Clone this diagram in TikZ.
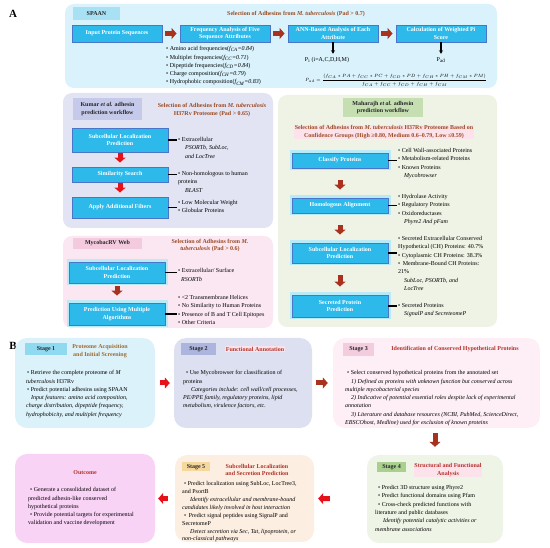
\documentclass[tikz,border=0pt]{standalone}
\usepackage{amsmath}
\usepackage{graphicx}
\usepackage{fontspec}
\setmainfont{Liberation Serif}
\usetikzlibrary{arrows.meta}
\definecolor{spaanbg}{HTML}{D9F2FB}
\definecolor{spaantag}{HTML}{A9E1F4}
\definecolor{stepcyan}{HTML}{2DB9EA}
\definecolor{stepedge}{HTML}{4A76C9}
\definecolor{glowcyan}{HTML}{B9EAF8}
\definecolor{kumarbg}{HTML}{E2E3F3}
\definecolor{kumartag}{HTML}{C6CAEA}
\definecolor{maharbg}{HTML}{EEF3E5}
\definecolor{mahartag}{HTML}{C5DFB2}
\definecolor{mycobg}{HTML}{FBE7F2}
\definecolor{mycotag}{HTML}{F4CADF}
\definecolor{titlebrown}{HTML}{9A4A22}
\definecolor{titlepink}{HTML}{FCE3EB}
\definecolor{arrowbrown}{HTML}{A8321E}
\definecolor{arrowred}{HTML}{E5121A}
\definecolor{stagered}{HTML}{B2322A}
\definecolor{stageolive}{HTML}{9C6A32}
\definecolor{sonebg}{HTML}{DCF2FA}
\definecolor{sonetag}{HTML}{8FD9F1}
\definecolor{stwobg}{HTML}{DDE0F1}
\definecolor{stwotag}{HTML}{ABB5DD}
\definecolor{sthreebg}{HTML}{FDEFF5}
\definecolor{sthreetag}{HTML}{F3CCDD}
\definecolor{sfourbg}{HTML}{EEF4E6}
\definecolor{sfourtag}{HTML}{A9D08E}
\definecolor{sfivebg}{HTML}{FCEEE1}
\definecolor{sfivetag}{HTML}{F6D79C}
\definecolor{outbg}{HTML}{F9D3F6}
\newcommand\adhtext{\fontsize{6}{8.3}\selectfont}
\newcommand\adhbold{\fontsize{6}{7.6}\selectfont\bfseries}
\tikzset{
 adh panel/.style={rounded corners=9pt,inner sep=0pt},
 adh stage/.style={rounded corners=12pt,inner sep=0pt},
 adh tag/.style={font=\adhbold,align=center,inner sep=1pt,text=black!85},
 adh title/.style={font=\adhbold,align=center,text=titlebrown,inner sep=.8pt},
 adh step/.style={fill=stepcyan,draw=stepedge,line width=.9pt,text=white,
                  font=\adhbold,align=center,inner sep=1pt},
 adh glow/.style={preaction={draw=glowcyan,line width=5pt}},
 adh list/.style={anchor=north west,align=left,font=\adhtext,inner sep=0pt},
 adh flow/.style={line width=5pt,draw=arrowred,
                  -{Triangle[length=5pt,width=11pt]},shorten <=3pt,shorten >=3pt},
 adh link/.style={line width=1.6pt,shorten >=1.5pt},
 adh down/.style={line width=1.1pt,-{Stealth[length=3.5pt,width=4pt]}},
 adh letter/.style={font=\fontsize{11}{12}\selectfont\bfseries}
}

\begin{document}
\begin{tikzpicture}[x=1pt,y=-1pt]
 \useasboundingbox (0,0) rectangle (550,548);
 \node[adh letter] (labA) at (13,14) {A};
 \node[adh letter] (labB) at (13,346) {B};

 % SPAAN
 \node[adh panel,fill=spaanbg,minimum width=432,minimum height=84] (spaan) at (281,46) {};
 \node[adh tag,fill=spaantag,minimum width=47,minimum height=13] (spaantag) at (96.5,13.5) {SPAAN};
 \node[adh title] (spaantitle) at (296,14) {Selection of Adhesins from \textit{M. tuberculosis} (Pad > 0.7)};
 \foreach \n/\x/\t in {input/117/Input Protein Sequences,
                      freq/225/Frequency Analysis of Five\\Sequence Attributes,
                      ann/333/ANN-Based Analysis of Each\\Attribute,
                      calc/441/Calculation of Weighted Pi\\Score}
   \node[adh step,minimum width=90,minimum height=17] (\n) at (\x,33.5) {\t};
 \foreach \a/\b in {input/freq,freq/ann,ann/calc}
   \draw[adh flow,draw=arrowbrown] (\a) -- (\b);
 \node[adh list] (featlist) at (166,46.3) {%
   • Amino acid frequencies(\textit{f\textsubscript{CA}=0.84})\\
   • Multiplet frequencies(\textit{f\textsubscript{CC}=0.71})\\
   • Dipeptide frequencies(\textit{f\textsubscript{CD}=0.84})\\
   • Charge composition(\textit{f\textsubscript{CH}=0.79})\\
   • Hydrophobic composition(\textit{f\textsubscript{CM}=0.83})};
 \node[font=\adhtext] (pi) at (327,60) {P\textsubscript{i} (i=A,C,D,H,M)};
 \node[font=\adhtext] (pad) at (441,60) {P\textsubscript{ad}};
 \draw[adh down] (ann.south) -- (ann.south |- pi.north);
 \draw[adh down] (calc.south) -- (pad.north);
 \node[inner sep=0pt] (padformula) at (396,80)
   {\scalebox{0.76}{\fontsize{6.5}{8}\selectfont
    $P_{ad}=\dfrac{(f_{CA}\ast PA+f_{CC}\ast PC+f_{CD}\ast PD+f_{CH}\ast PH+f_{CM}\ast PM)}{f_{CA}+f_{CC}+f_{CD}+f_{CH}+f_{CM}}$}};

 % Kumar et al.
 \node[adh panel,fill=kumarbg,minimum width=210,minimum height=135] (kumar) at (168,160.5) {};
 \node[adh tag,fill=kumartag,minimum width=69,minimum height=22] (kumartag) at (107.5,109)
   {Kumar \textit{et al.} adhesin\\prediction workflow};
 \node[adh title] (kumartitle) at (212,110)
   {Selection of Adhesins from \textit{M. tuberculosis}\\H37Rv Proteome (Pad > 0.65)};
 \node[adh step,minimum width=96,minimum height=24] (ksubloc) at (120,140) {Subcellular Localization\\Prediction};
 \node[adh step,minimum width=96,minimum height=15] (ksim) at (120,174.5) {Similarity Search};
 \node[adh step,minimum width=96,minimum height=21] (kfilter) at (120,207.5) {Apply Additional Filters};
 \draw[adh flow,shorten <=1pt,shorten >=4pt] (ksubloc) -- (ksim);
 \draw[adh flow,shorten <=1pt,shorten >=4pt] (ksim) -- (kfilter);
 \node[adh list] (klist1) at (178,137.3) {%
   • Extracellular\\
   \hspace*{7pt}\textit{PSORTb, SubLoc,}\\
   \hspace*{7pt}\textit{and LocTree}};
 \node[adh list] (klist2) at (178,171.3) {%
   • Non-homologous to human\\
   proteins\\
   \hspace*{7pt}\textit{BLAST}};
 \node[adh list] (klist3) at (178,200.3) {%
   • Low Molecular Weight\\
   • Globular Proteins};
 \foreach \b/\l in {ksubloc/klist1,ksim/klist2,kfilter/klist3}
   \draw[adh link] (\b.east) -- (\b.east -| \l.west);

 % Maharajh et al.
 \node[adh panel,fill=maharbg,minimum width=219,minimum height=232] (mahar) at (387.5,211) {};
 \node[adh tag,fill=mahartag,minimum width=80,minimum height=19] (mahartag) at (383,107.5)
   {Maharajh \textit{et al.} adhesin\\prediction workflow};
 \node[adh title,fill=titlepink] (mahartitle) at (384,132)
   {Selection of Adhesins from \textit{M. tuberculosis} H37Rv Proteome Based on\\
    Confidence Groups (High ≥0.80, Medium 0.6–0.79, Low ≤0.59)};
 \node[adh step,adh glow,minimum width=96,minimum height=15] (mclass) at (340,160.5) {Classify Proteins};
 \node[adh step,adh glow,minimum width=96,minimum height=15] (mhomol) at (340,205.5) {Homologous Alignment};
 \node[adh step,adh glow,minimum width=96,minimum height=20] (msubloc) at (340,253) {Subcellular Localization\\Prediction};
 \node[adh step,adh glow,minimum width=96,minimum height=22] (msecr) at (340,306) {Secreted Protein\\Prediction};
 \foreach \a/\b in {mclass/mhomol,mhomol/msubloc,msubloc/msecr}
   \draw[adh flow,draw=arrowbrown,shorten <=12pt,shorten >=8pt] (\a) -- (\b);
 \node[adh list] (mlist1) at (398,148.3) {%
   • Cell Wall-associated Proteins\\
   • Metabolism-related Proteins\\
   • Known Proteins\\
   \hspace*{6pt}\textit{Mycobrowser}};
 \node[adh list] (mlist2) at (398,194.3) {%
   • Hydrolase Activity\\
   • Regulatory Proteins\\
   • Oxidoreductases\\
   \hspace*{6pt}\textit{Phyre2 And pFam}};
 \node[adh list] (mlist3) at (398,236.3) {%
   • Secreted Extracellular Conserved\\
   Hypothetical (CH) Proteins: 40.7\%\\
   • Cytoplasmic CH Proteins: 38.3\%\\
   • \hspace*{1pt}Membrane-Bound CH Proteins:\\
   21\%\\
   \hspace*{6pt}\textit{SubLoc, PSORTb, and}\\
   \hspace*{6pt}\textit{LocTree}};
 \node[adh list] (mlist4) at (398,303.3) {%
   • Secreted Proteins\\
   \hspace*{6pt}\textit{SignalP and SecreteomeP}};
 \foreach \b/\l in {mclass/mlist1,mhomol/mlist2,msubloc/mlist3,msecr/mlist4}
   \draw[adh link] (\b.east) -- (\b.east -| \l.west);

 % MycobacRV
 \node[adh panel,fill=mycobg,minimum width=210,minimum height=92] (myco) at (168,282) {};
 \node[adh tag,fill=mycotag,minimum width=69,minimum height=11] (mycotag) at (107.5,243.5) {MycobacRV Web};
 \node[adh title] (mycotitle) at (210,245.5)
   {Selection of Adhesins from \textit{M.}\\\textit{tuberculosis} (Pad > 0.6)};
 \node[adh step,adh glow,minimum width=96,minimum height=21] (rsubloc) at (117,272.5) {Subcellular Localization\\Prediction};
 \node[adh step,adh glow,minimum width=96,minimum height=22] (rmulti) at (117,314) {Prediction Using Multiple\\Algorithms};
 \draw[adh flow,draw=arrowbrown,shorten <=3pt,shorten >=7pt] (rsubloc) -- (rmulti);
 \node[adh list] (rlist1) at (178,268.3) {%
   • Extracellular/ Surface\\
   \hspace*{3pt}\textit{RSORTb}};
 \node[adh list] (rlist2) at (178,295.3) {%
   • <2 Transmembrane Helices\\
   • No Similarity to Human Proteins\\
   • Presence of B and T Cell Epitopes\\
   • Other Criteria};
 \foreach \b/\l in {rsubloc/rlist1,rmulti/rlist2}
   \draw[adh link] (\b.east) -- (\b.east -| \l.west);

 % (B) stages
 \node[adh stage,fill=sonebg,minimum width=140,minimum height=90] (stage1) at (85,383) {};
 \node[adh stage,fill=stwobg,minimum width=138,minimum height=90] (stage2) at (243,383) {};
 \node[adh stage,fill=sthreebg,minimum width=207,minimum height=90] (stage3) at (436.5,383) {};
 \node[adh stage,fill=sfourbg,minimum width=136,minimum height=88] (stage4) at (435,499) {};
 \node[adh stage,fill=sfivebg,minimum width=139,minimum height=87] (stage5) at (244.5,498.5) {};
 \node[adh stage,fill=outbg,minimum width=140,minimum height=89] (outcome) at (85,498.5) {};
 \draw[adh flow,shorten <=5pt,shorten >=4pt] (stage1) -- (stage2);
 \draw[adh flow,draw=arrowbrown,shorten <=4pt,shorten >=5pt] (stage2) -- (stage3);
 \draw[adh flow,draw=arrowbrown,shorten <=5pt,shorten >=8pt] (stage4.north |- stage3.south) -- (stage4.north);
 \draw[adh flow,shorten <=37pt,shorten >=4pt] (stage4.west) -- (stage5.east);
 \draw[adh flow,shorten <=7pt,shorten >=3pt] (stage5.west) -- (outcome.east);

 % stage 1
 \node[adh tag,fill=sonetag,minimum width=42,minimum height=12] (s1tag) at (46,349) {Stage 1};
 \node[adh title,text=stageolive] (s1title) at (100,351) {Proteome Acquisition\\and Initial Screening};
 \node[adh list] (s1list) at (25,370.3) {%
   \hspace*{2pt}• Retrieve the complete proteome of \textit{M}\\
   \hspace*{1pt}\textit{tuberculosis} H37Rv\\
   \hspace*{2pt}• Predict potential adhesins using SPAAN\\
   \hspace*{6pt}\textit{Input features: amino acid composition,}\\
   \hspace*{1pt}\textit{charge distribution, dipeptide frequency,}\\
   \hspace*{1pt}\textit{hydrophobicity, and multiplet frequency}};

 % stage 2
 \node[adh tag,fill=stwotag,minimum width=35,minimum height=12] (s2tag) at (198.5,349) {Stage 2};
 \node[adh title,text=stagered,fill=titlepink] (s2title) at (255,349) {Functional Annotation};
 \node[adh list] (s2list) at (183,370.3) {%
   \hspace*{3pt}• Use Mycobrowser for classification of\\
   proteins\\
   \hspace*{8pt}\textit{Categories include: cell wall/cell processes,}\\
   \textit{PE/PPE family, regulatory proteins, lipid}\\
   \textit{metabolism, virulence factors, etc.}};

 % stage 3
 \node[adh tag,fill=sthreetag,minimum width=31,minimum height=13] (s3tag) at (358.5,349.5) {Stage 3};
 \node[adh title,text=stagered] (s3title) at (455,349) {Identification of Conserved Hypothetical Proteins};
 \node[adh list] (s3list) at (345,370.3) {%
   \hspace*{2pt}• Select conserved hypothetical proteins from the annotated set\\
   \hspace*{6pt}\textit{1) Defined as proteins with unknown function but conserved across}\\
   \textit{multiple mycobacterial species}\\
   \hspace*{6pt}\textit{2) Indicative of potential essential roles despite lack of experimental}\\
   \textit{annotation}\\
   \hspace*{6pt}\textit{3) Literature and database resources (NCBI, PubMed, ScienceDirect,}\\
   \textit{EBSCOhost, Medline) used for exclusion of known proteins}};

 % stage 4
 \node[adh tag,fill=sfourtag,minimum width=29,minimum height=10] (s4tag) at (391.5,467) {Stage 4};
 \node[adh title,text=stagered,fill=titlepink] (s4title) at (448,470) {Structural and Functional\\Analysis};
 \node[adh list] (s4list) at (375,485.3) {%
   \hspace*{3pt}• Predict 3D structure using Phyre2\\
   \hspace*{3pt}• Predict functional domains using Pfam\\
   \hspace*{3pt}• Cross-check predicted functions with\\
   literature and public databases\\
   \hspace*{8pt}\textit{Identify potential catalytic activities or}\\
   \textit{membrane associations}};

 % stage 5
 \node[adh tag,fill=sfivetag,minimum width=28,minimum height=9] (s5tag) at (196,467) {Stage 5};
 \node[adh title,text=stagered] (s5title) at (257,470) {Subcellular Localization\\and Secretion Prediction};
 \node[adh list,font=\fontsize{6}{7.9}\selectfont] (s5list) at (182,481.3) {%
   \hspace*{2pt}• Predict localization using SubLoc, LocTree3,\\
   and PsortB\\
   \hspace*{8pt}\textit{Identify extracellular and membrane-bound}\\
   \textit{candidates likely involved in host interaction}\\
   \hspace*{2pt}• \hspace*{1pt}Predict signal peptides using SignalP and\\
   SecretomeP\\
   \hspace*{8pt}\textit{Detect secretion via Sec, Tat, lipoprotein, or}\\
   \textit{non-classical pathways}};

 % outcome
 \node[adh title,text=stagered] (outtitle) at (85,473) {Outcome};
 \node[adh list] (outlist) at (28,487.3) {%
   \hspace*{2pt}• Generate a consolidated dataset of\\
   predicted adhesin-like conserved\\
   hypothetical proteins\\
   \hspace*{2pt}• Provide potential targets for experimental\\
   validation and vaccine development};
\end{tikzpicture}
\end{document}
